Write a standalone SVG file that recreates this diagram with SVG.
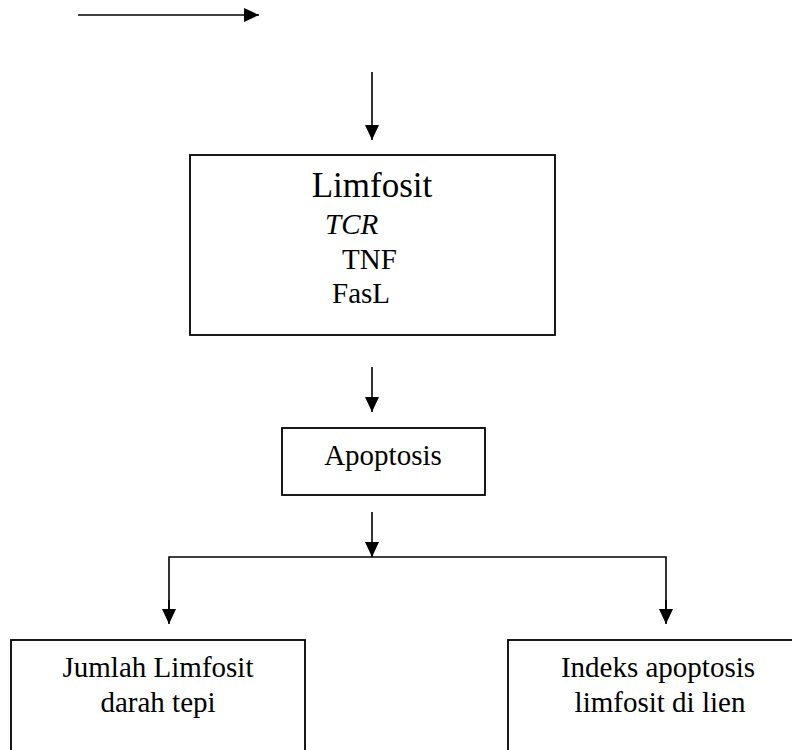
<svg xmlns="http://www.w3.org/2000/svg" width="792" height="750" viewBox="0 0 792 750">
<style>
.box{fill:#fff;stroke:#000;stroke-width:1.8}
.ln{fill:none;stroke:#000;stroke-width:1.6}
text{font-family:"Liberation Serif","Times New Roman",serif;fill:#000}
.sm{font-size:29px}
.lg{font-size:35px}
</style>
<defs>
<marker id="ah" viewBox="0 0 15 14" refX="15" refY="7" markerWidth="15" markerHeight="14" markerUnits="userSpaceOnUse" orient="auto">
<path d="M0,0 L15,7 L0,14 z" fill="#000"/>
</marker>
</defs>
<g id="connectors">
<line class="ln" x1="78" y1="15" x2="259" y2="15" marker-end="url(#ah)"/>
<line class="ln" x1="372" y1="72" x2="372" y2="140" marker-end="url(#ah)"/>
<line class="ln" x1="372" y1="367" x2="372" y2="412" marker-end="url(#ah)"/>
<line class="ln" x1="372" y1="512" x2="372" y2="557" marker-end="url(#ah)"/>
<polyline class="ln" points="169,610 169,557 666,557 666,610"/>
<line class="ln" x1="169" y1="600" x2="169" y2="624" marker-end="url(#ah)"/>
<line class="ln" x1="666" y1="600" x2="666" y2="624" marker-end="url(#ah)"/>
</g>
<g id="limfosit">
<rect class="box" x="190" y="155" width="365" height="180"/>
<text class="lg" x="372" y="197" text-anchor="middle">Limfosit</text>
<text class="sm" x="325" y="234" font-style="italic" font-size="28">TCR</text>
<text class="sm" x="342" y="269" font-size="28">TNF</text>
<text class="sm" x="332" y="303" font-size="28">FasL</text>
</g>
<g id="apoptosis">
<rect class="box" x="282" y="428" width="203" height="67"/>
<text class="sm" x="383" y="465" text-anchor="middle">Apoptosis</text>
</g>
<g id="jumlah">
<rect class="box" x="11" y="640" width="294" height="130"/>
<text class="sm" x="158" y="677" text-anchor="middle">Jumlah Limfosit</text>
<text class="sm" x="158" y="712" text-anchor="middle">darah tepi</text>
</g>
<g id="indeks">
<rect class="box" x="508" y="640" width="300" height="130"/>
<text class="sm" x="658" y="677" text-anchor="middle">Indeks apoptosis</text>
<text class="sm" x="660" y="712" text-anchor="middle">limfosit di lien</text>
</g>
</svg>
